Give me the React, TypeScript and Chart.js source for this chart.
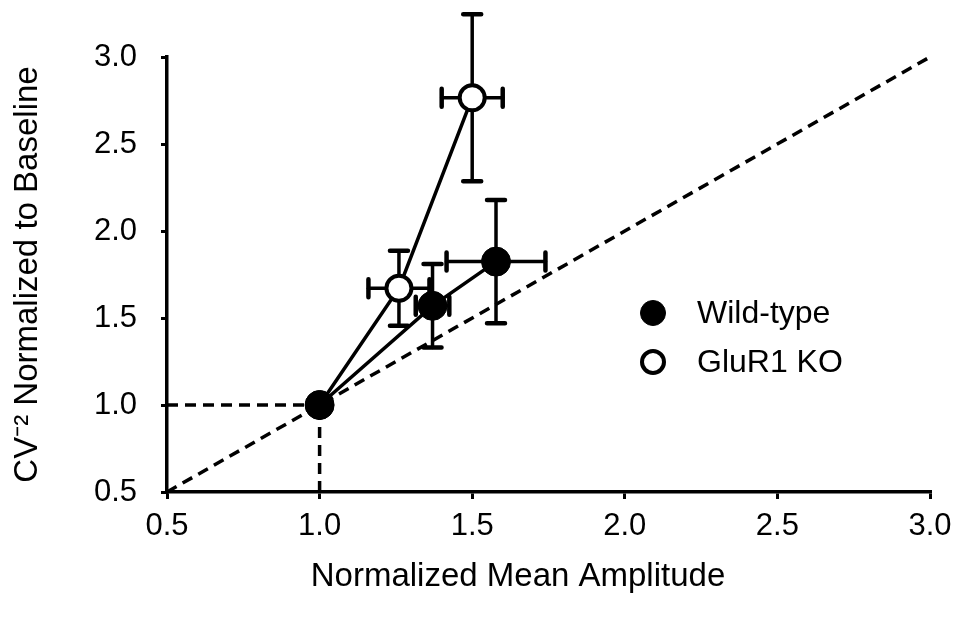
import React, { useEffect, useRef } from "react";
import { Chart, registerables } from "chart.js";

Chart.register(...registerables);

// ---- data ----
const tickValues = [0.5, 1.0, 1.5, 2.0, 2.5, 3.0];

const wtLabel = "Wild-type";
const wtX = [1.0, 1.37, 1.578];
const wtY = [1.0, 1.57, 1.824];
const wtXErr = [0, 0.055, 0.162];
const wtYErr = [0, 0.24, 0.354];

const koLabel = "GluR1 KO";
const koX = [1.0, 1.26, 1.5];
const koY = [1.0, 1.671, 2.766];
const koXErr = [0, 0.1, 0.1];
const koYErr = [0, 0.215, 0.48];

const diagX = [0.5, 3.0];
const diagY = [0.5, 3.0];
const refHX = [0.5, 1.0];
const refHY = [1.0, 1.0];
const refVX = [1.0, 1.0];
const refVY = [0.5, 1.0];

const xTitle = "Normalized Mean Amplitude";
const yTitle = "CV\u207B\u00B2 Normalized to Baseline";

const FONT = "'Liberation Sans', Arial, sans-serif";

const pts = (xs: number[], ys: number[]) => xs.map((x, i) => ({ x, y: ys[i] }));

const errorBarPlugin = {
  id: "errorBars",
  beforeDatasetsDraw(chart: any) {
    const { ctx, scales } = chart;
    const xs = scales.x;
    const ys = scales.y;
    ctx.save();
    ctx.strokeStyle = "#000";
    ctx.lineCap = "round";
    chart.data.datasets.forEach((ds: any) => {
      if (!ds.errX) return;
      ds.data.forEach((p: any, i: number) => {
        const ex = ds.errX[i];
        const ey = ds.errY[i];
        const cx = xs.getPixelForValue(p.x);
        const cy = ys.getPixelForValue(p.y);
        const cap = 9;
        if (ey > 0) {
          const t = ys.getPixelForValue(p.y + ey);
          const b = ys.getPixelForValue(p.y - ey);
          ctx.lineWidth = 3.5;
          ctx.beginPath();
          ctx.moveTo(cx, t);
          ctx.lineTo(cx, b);
          ctx.stroke();
          ctx.lineWidth = 4.5;
          ctx.beginPath();
          ctx.moveTo(cx - cap, t);
          ctx.lineTo(cx + cap, t);
          ctx.moveTo(cx - cap, b);
          ctx.lineTo(cx + cap, b);
          ctx.stroke();
        }
        if (ex > 0) {
          const l = xs.getPixelForValue(p.x - ex);
          const r = xs.getPixelForValue(p.x + ex);
          ctx.lineWidth = 3.5;
          ctx.beginPath();
          ctx.moveTo(l, cy);
          ctx.lineTo(r, cy);
          ctx.stroke();
          ctx.lineWidth = 4.5;
          ctx.beginPath();
          ctx.moveTo(l, cy - cap);
          ctx.lineTo(l, cy + cap);
          ctx.moveTo(r, cy - cap);
          ctx.lineTo(r, cy + cap);
          ctx.stroke();
        }
      });
    });
    ctx.restore();
  },
};

const extrasPlugin = {
  id: "extras",
  afterDraw(chart: any) {
    const { ctx } = chart;
    ctx.save();
    // x-axis title
    ctx.fillStyle = "#000";
    ctx.font = `33px ${FONT}`;
    ctx.textAlign = "center";
    ctx.textBaseline = "middle";
    ctx.fillText(xTitle, 518, 577);
    // legend
    const items = chart.data.datasets.filter((d: any) => d.inLegend);
    const rows = [313, 362];
    items.forEach((d: any, i: number) => {
      const y = rows[i];
      ctx.beginPath();
      ctx.arc(653, y, d.legendRadius, 0, Math.PI * 2);
      ctx.fillStyle = d.pointBackgroundColor;
      ctx.fill();
      ctx.lineWidth = d.pointBorderWidth;
      ctx.strokeStyle = "#000";
      ctx.stroke();
      ctx.fillStyle = "#000";
      ctx.font = `32px ${FONT}`;
      ctx.textAlign = "left";
      ctx.textBaseline = "middle";
      ctx.fillText(d.label, 697, y + 1);
    });
    ctx.restore();
  },
};

export default function App() {
  const ref = useRef<HTMLCanvasElement | null>(null);

  useEffect(() => {
    if (!ref.current) return;
    const dashed = {
      showLine: true,
      borderColor: "#000",
      borderWidth: 3.5,
      borderDash: [11, 7],
      pointRadius: 0,
      fill: false,
    };
    const chart = new Chart(ref.current, {
      type: "scatter",
      data: {
        datasets: [
          {
            label: wtLabel,
            data: pts(wtX, wtY),
            showLine: true,
            borderColor: "#000",
            borderWidth: 3.5,
            pointRadius: 14.5,
            pointBackgroundColor: "#000",
            pointBorderColor: "#000",
            pointBorderWidth: 1,
            order: 0,
            errX: wtXErr,
            errY: wtYErr,
            inLegend: true,
            legendRadius: 12.5,
          } as any,
          {
            label: koLabel,
            data: pts(koX, koY),
            showLine: true,
            borderColor: "#000",
            borderWidth: 3.5,
            pointRadius: 12.5,
            pointBackgroundColor: "#fff",
            pointBorderColor: "#000",
            pointBorderWidth: 4,
            order: 1,
            errX: koXErr,
            errY: koYErr,
            inLegend: true,
            legendRadius: 11,
          } as any,
          { label: "identity", data: pts(diagX, diagY), ...dashed, order: 2 } as any,
          { label: "refH", data: pts(refHX, refHY), ...dashed, order: 3 } as any,
          { label: "refV", data: pts(refVX, refVY), ...dashed, order: 4 } as any,
        ],
      },
      options: {
        animation: false,
        responsive: true,
        maintainAspectRatio: false,
        layout: { padding: { top: 57, right: 33, left: 0, bottom: 0 } },
        plugins: {
          legend: { display: false },
          tooltip: { enabled: false },
        },
        scales: {
          x: {
            type: "linear",
            min: 0.5,
            max: 3.0,
            afterBuildTicks: (s: any) => {
              s.ticks = tickValues.map((v) => ({ value: v }));
            },
            afterFit: (s: any) => {
              s.height = 131;
            },
            ticks: {
              callback: (v: any) => Number(v).toFixed(1),
              font: { family: FONT, size: 31 },
              color: "#000",
              padding: 9,
              maxRotation: 0,
              autoSkip: false,
            },
            grid: {
              display: true,
              drawOnChartArea: false,
              drawTicks: true,
              tickLength: 7,
              color: "#000",
              lineWidth: 3,
            },
            border: { display: true, color: "#000", width: 3.5 },
          },
          y: {
            type: "linear",
            min: 0.5,
            max: 3.0,
            afterBuildTicks: (s: any) => {
              s.ticks = tickValues.map((v) => ({ value: v }));
            },
            afterFit: (s: any) => {
              s.width = 167;
            },
            ticks: {
              callback: (v: any) => Number(v).toFixed(1),
              font: { family: FONT, size: 31 },
              color: "#000",
              padding: 24,
              autoSkip: false,
            },
            grid: {
              display: true,
              drawOnChartArea: false,
              drawTicks: true,
              tickLength: 6,
              color: "#000",
              lineWidth: 3,
            },
            border: { display: true, color: "#000", width: 3.5 },
            title: {
              display: true,
              text: yTitle,
              font: { family: FONT, size: 33 },
              color: "#000",
              padding: { top: 8, bottom: 0 },
            },
          },
        },
      },
      plugins: [errorBarPlugin, extrasPlugin],
    } as any);
    return () => chart.destroy();
  }, []);

  return (
    <div style={{ position: "absolute", left: 0, top: 0, width: 963, height: 623, background: "#fff" }}>
      <canvas ref={ref} />
    </div>
  );
}
